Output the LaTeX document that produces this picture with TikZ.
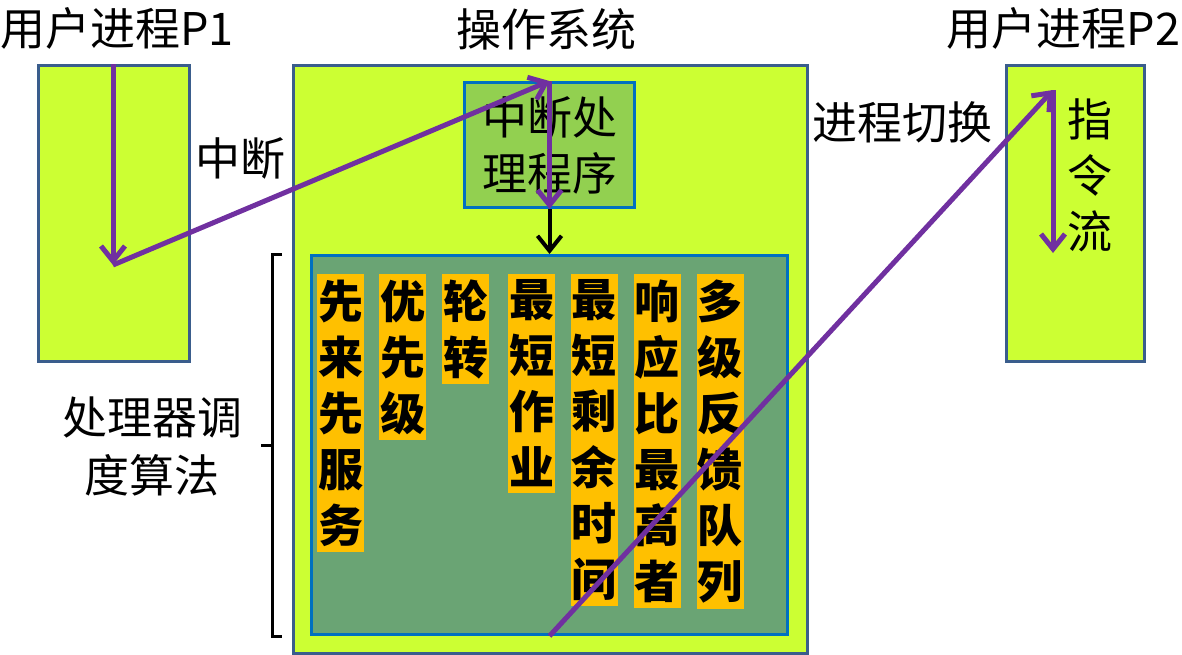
\documentclass[tikz,border=0pt]{standalone}
\usepackage{fontspec}
\setmainfont{Noto Sans CJK SC}
\usepackage{tikz}
\usetikzlibrary{positioning,arrows.meta}

\definecolor{boxlime}{HTML}{CCFF33}
\definecolor{boxedge}{HTML}{3A5D8C}
\definecolor{isrgreen}{HTML}{92D050}
\definecolor{isredge}{HTML}{0070C0}
\definecolor{schedgreen}{HTML}{6AA474}
\definecolor{algoorange}{HTML}{FFC000}
\definecolor{flowpurple}{HTML}{7030A0}

\begin{document}
\begin{tikzpicture}[
  x=1pt, y=-1pt,
  font=\fontsize{45}{56}\selectfont,
  proc/.style={draw=boxedge, line width=3pt, fill=boxlime, anchor=north west},
  inbox/.style={draw=isredge, line width=3pt, anchor=north west, align=center, inner sep=0pt},
  lbl/.style={inner sep=0pt, align=center},
  algo/.style={fill=algoorange, align=center, inner xsep=1pt, inner ysep=5.5pt, anchor=north,
    font=\fontsize{45}{56}\selectfont\bfseries},
  flow/.style={draw=flowpurple, line width=5pt, -{Straight Barb[length=15pt,width=24pt]}},
  ctl/.style={line width=4pt, -{Straight Barb[length=15pt,width=24pt]}},
  brace/.style={line width=3pt}]
\useasboundingbox (0,0) rectangle (1182,654);

% processes and the operating system
\node[proc, minimum width=151, minimum height=296] (p1) at (37,64) {};
\node[proc, minimum width=514, minimum height=588] (os) at (292,64) {};
\node[proc, minimum width=138, minimum height=296] (p2) at (1005,64) {};
\node[inbox, fill=schedgreen, minimum width=476, minimum height=379] (sched) at (310,254) {};
\node[inbox, fill=isrgreen, minimum width=170, minimum height=125] (isr) at (463,81) {中断处\\理程序};

\node[lbl, above=14pt of p1, xshift=3pt] (p1name) {用户进程P1};
\node[lbl, above=14pt of os, xshift=-4pt] (osname) {操作系统};
\node[lbl, above=14pt of p2, xshift=-12pt] (p2name) {用户进程P2};

% scheduling algorithms
\node[algo] (fcfs) at (340.5,274) {先\\来\\先\\服\\务};
\node[algo] (prio) at (402.5,274) {优\\先\\级};
\node[algo] (rr) at (465.5,274) {轮\\转};
\node[algo] (sjf) at (531.5,274) {最\\短\\作\\业};
\node[algo] (srt) at (594,274) {最\\短\\剩\\余\\时\\间};
\node[algo] (hrrn) at (657,274) {响\\应\\比\\最\\高\\者};
\node[algo] (mlfq) at (720,274) {多\\级\\反\\馈\\队\\列};

\node[lbl] (intrname) at (240,158) {中断};
\node[lbl] (swname) at (902,122) {进程切换};
\node[lbl] (instr) at (1090,175) {指\\令\\流};
\node[lbl, font=\fontsize{45}{58}\selectfont] (algname) at (152,446) {处理器调\\度算法};

\draw[brace] ([xshift=-28pt]sched.north west) -| ([xshift=-38pt]sched.south west) -- ([xshift=-28pt]sched.south west);
\draw[brace] ([xshift=-38pt]sched.west) -- ++(-11pt,0);

% control flow
\coordinate (intr) at (113,265);
\coordinate (p2in) at (1053,90);
\coordinate (p2out) at (1053,253);
\draw[flow] (p1.north -| intr) -- (intr);
\draw[flow] (intr) -- (isr.north);
\draw[flow] (isr.north) -- (isr.south);
\draw[ctl] (isr.south) -- (sched.north);
\draw[flow] (sched.south) -- (p2in);
\draw[flow] (p2in) -- (p2out);
\end{tikzpicture}
\end{document}
